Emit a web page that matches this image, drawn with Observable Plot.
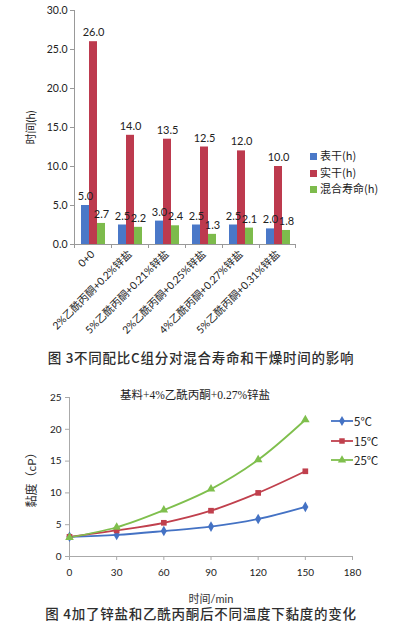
<!DOCTYPE html>
<html>
<head>
<meta charset="utf-8">
<script src="https://cdn.jsdelivr.net/npm/d3@7"></script>
<script src="https://cdn.jsdelivr.net/npm/@observablehq/plot@0.6"></script>
<style>
  body { margin: 0; background: #fff; }
  #wrap { position: relative; width: 393px; height: 629px; overflow: hidden; font-family: Lato, "Noto Sans CJK SC", sans-serif; }
  .caption { position: absolute; left: 0; width: 402px; text-align: center; font-family: "Noto Sans CJK SC", sans-serif; font-size: 13.5px; font-weight: 500; letter-spacing: 0.75px; color: #2e2e2e; white-space: nowrap; }
  .leg1 { position: absolute; left: 310px; font-family: "Noto Sans CJK SC", sans-serif; font-size: 11px; color: #222; white-space: nowrap; }
  .leg1 span.sw { display: inline-block; width: 7px; height: 7px; margin-right: 3px; vertical-align: 0px; }
  .leg2 { position: absolute; left: 331px; font-family: "Noto Sans CJK SC", sans-serif; font-size: 11.5px; color: #222; white-space: nowrap; display: flex; align-items: center; }
  .title2 { position: absolute; left: 0; width: 390px; text-align: center; top: 386px; font-family: "Liberation Serif", "Noto Sans CJK SC", serif; font-size: 11.5px; color: #222; }
</style>
</head>
<body>
<div id="wrap"></div>
<script>
// ---------- Chart 1 data ----------
const categories = ["0+0", "2%乙酰丙酮+0.2%锌盐", "5%乙酰丙酮+0.21%锌盐", "2%乙酰丙酮+0.25%锌盐", "4%乙酰丙酮+0.27%锌盐", "5%乙酰丙酮+0.31%锌盐"];
const barSeries = ["表干(h)", "实干(h)", "混合寿命(h)"];
const surfaceDry = [5.0, 2.5, 3.0, 2.5, 2.5, 2.0];
const hardDry = [26.0, 14.0, 13.5, 12.5, 12.0, 10.0];
const mixLife = [2.7, 2.2, 2.4, 1.3, 2.1, 1.8];
const barColors = ["#4a78c8", "#bd3a4e", "#7dbb4c"];
const barYTicks = [0, 5, 10, 15, 20, 25, 30];

// ---------- Chart 2 data ----------
const minutes = [0, 30, 60, 90, 120, 150];
const lineSeries = ["5℃", "15℃", "25℃"];
const visc5 = [3.1, 3.4, 4.0, 4.7, 5.9, 7.8];
const visc15 = [3.1, 4.1, 5.3, 7.2, 10.0, 13.4];
const visc25 = [3.0, 4.6, 7.3, 10.6, 15.2, 21.5];
const lineColors = ["#4472c4", "#c0404d", "#7fbf4d"];
const lineSymbols = ["diamond", "square", "triangle"];
const xTicks2 = [0, 30, 60, 90, 120, 150, 180];
const yTicks2 = [0, 5, 10, 15, 20, 25];

const wrap = document.getElementById("wrap");

// ---------- Chart 1 ----------
const barValues = [surfaceDry, hardDry, mixLife];
const barRows = categories.flatMap((c, i) => barSeries.map((s, j) => ({cat: c, s, v: barValues[j][i]})));

const topPlot = Plot.plot({
  width: 393,
  height: 345,
  marginLeft: 72,
  marginRight: 96,
  marginTop: 10,
  marginBottom: 101,
  style: {fontFamily: 'Lato, "Noto Sans CJK SC", sans-serif', fontSize: "10.5px", color: "#222", background: "#fff"},
  fx: {domain: categories, padding: 0},
  x: {domain: barSeries, paddingInner: 0, paddingOuter: 0.75, axis: null},
  y: {domain: [0, 30]},
  color: {domain: barSeries, range: barColors},
  marks: [
    Plot.barY(barRows, {fx: "cat", x: "s", y: "v", fill: "s"}),
    Plot.text(barRows, {fx: "cat", x: "s", y: "v", text: d => d.v.toFixed(1), dy: -9, fill: "#222", fontSize: 11}),
    Plot.axisY({ticks: barYTicks, tickFormat: d => d.toFixed(1), tickSize: 4, tickPadding: 3, stroke: "#999", fill: "#222",
      label: null, fontSize: 10.5}),
    Plot.axisY({ticks: [], tickSize: 0, label: "时间(h)", labelArrow: "none", labelAnchor: "center", labelOffset: 47, fontSize: 11, fill: "#222"}),
    Plot.axisFx({anchor: "bottom", tickRotate: -45, tickSize: 0, tickPadding: 8, label: null, fill: "#222", fontSize: 10.5})
  ]
});
topPlot.style.position = "absolute";
topPlot.style.left = "0px";
topPlot.style.top = "0px";
wrap.appendChild(topPlot);

// axis lines and category separators, positioned with Plot's own scales
{
  const fx = topPlot.scale("fx"), y = topPlot.scale("y");
  const y0 = y.apply(0), y1 = y.apply(30);
  const left = fx.apply(categories[0]);
  const step = fx.bandwidth;
  const g = d3.select(topPlot).append("g").attr("stroke", "#999").attr("stroke-width", 1);
  g.append("line").attr("x1", left + 0.5).attr("x2", left + 0.5).attr("y1", y0).attr("y2", y1);
  const right = fx.apply(categories[categories.length - 1]) + step;
  g.append("line").attr("x1", left).attr("x2", right).attr("y1", y0 + 0.5).attr("y2", y0 + 0.5);
  categories.forEach(c => {
    const xx = fx.apply(c);
    g.append("line").attr("x1", xx + 0.5).attr("x2", xx + 0.5).attr("y1", y0).attr("y2", y0 + 4);
  });
  g.append("line").attr("x1", right - 0.5).attr("x2", right - 0.5).attr("y1", y0).attr("y2", y0 + 4);
}

// legend 1
barSeries.forEach((s, i) => {
  const d = document.createElement("div");
  d.className = "leg1";
  d.style.top = (147 + i * 16.5) + "px";
  d.innerHTML = `<span class="sw" style="background:${barColors[i]}"></span>${s}`;
  wrap.appendChild(d);
});

const cap1 = document.createElement("div");
cap1.className = "caption";
cap1.style.top = "347px";
cap1.textContent = "图 3不同配比C组分对混合寿命和干燥时间的影响";
wrap.appendChild(cap1);

// ---------- Chart 2 ----------
const lineValues = [visc5, visc15, visc25];
const lineRows = lineSeries.flatMap((s, j) => minutes.map((t, i) => ({s, t, v: lineValues[j][i]})));

const bottomPlot = Plot.plot({
  width: 393,
  height: 225,
  marginLeft: 69,
  marginRight: 41,
  marginTop: 17,
  marginBottom: 49,
  style: {fontFamily: 'Lato, "Noto Sans CJK SC", sans-serif', fontSize: "10px", color: "#222", background: "transparent"},
  x: {domain: [0, 180]},
  y: {domain: [0, 25]},
  color: {domain: lineSeries, range: lineColors},
  symbol: {domain: lineSeries, range: lineSymbols},
  marks: [
    Plot.ruleY([0], {stroke: "#aaa"}),
    Plot.ruleX([0], {stroke: "#aaa"}),
    Plot.axisX({ticks: xTicks2, tickSize: 4, tickPadding: 8, stroke: "#aaa", fill: "#222", label: null, fontSize: 10}),
    Plot.axisX({ticks: [], tickSize: 0, label: "时间/min", labelArrow: "none", labelAnchor: "center", labelOffset: 46, fontSize: 11, fill: "#333"}),
    Plot.axisY({ticks: yTicks2, tickSize: 4, tickPadding: 4, stroke: "#aaa", fill: "#222", label: null, fontSize: 10}),
    Plot.axisY({ticks: [], tickSize: 0, label: "黏度（cP）", labelArrow: "none", labelAnchor: "center", labelOffset: 42, fontSize: 12, fill: "#333"}),
    Plot.line(lineRows, {x: "t", y: "v", stroke: "s", z: "s", curve: "catmull-rom", strokeWidth: 1.8}),
    Plot.dot(lineRows, {x: "t", y: "v", fill: "s", symbol: "s", r: 3.2, stroke: "none"})
  ]
});
bottomPlot.style.position = "absolute";
bottomPlot.style.left = "0px";
bottomPlot.style.top = "380px";
wrap.appendChild(bottomPlot);

const t2 = document.createElement("div");
t2.className = "title2";
t2.textContent = "基料+4%乙酰丙酮+0.27%锌盐";
wrap.appendChild(t2);

// legend 2 with symbols matching the marks
lineSeries.forEach((s, i) => {
  const d = document.createElement("div");
  d.className = "leg2";
  d.style.top = (413 + i * 19.5) + "px";
  const sym = d3.symbol(i === 0 ? d3.symbolDiamond : i === 1 ? d3.symbolSquare : d3.symbolTriangle, 30)();
  d.innerHTML = `<svg width="22" height="12" style="margin-right:1px"><line x1="0" x2="22" y1="6" y2="6" stroke="${lineColors[i]}" stroke-width="1.8"/><path transform="translate(11,6)" d="${sym}" fill="${lineColors[i]}"/></svg>${s}`;
  wrap.appendChild(d);
});

const cap2 = document.createElement("div");
cap2.className = "caption";
cap2.style.top = "603px";
cap2.textContent = "图 4加了锌盐和乙酰丙酮后不同温度下黏度的变化";
wrap.appendChild(cap2);
</script>
</body>
</html>
